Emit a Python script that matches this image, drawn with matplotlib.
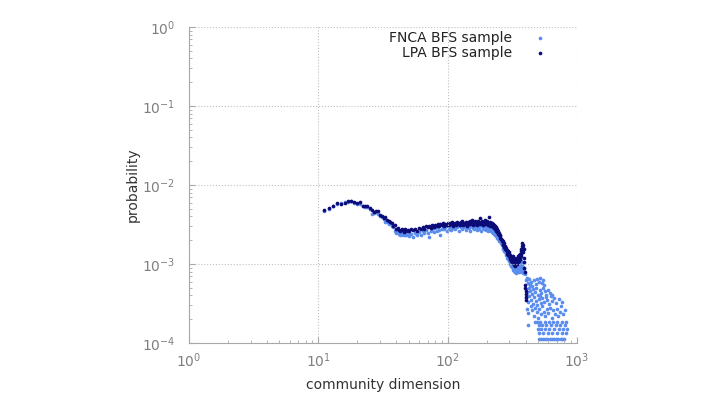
import numpy as np
import matplotlib
matplotlib.use("Agg")
import matplotlib.pyplot as plt

# community size -> probability (probabilities in units of 1e-3)
lpa_x = [11, 12, 13, 14, 15, 16, 17, 18, 19, 20, 21, 22, 23, 24, 25, 26, 27, 28, 29, 30,
         31, 32, 33, 34, 35, 36, 37, 38, 39, 40, 41, 42, 43, 44, 45, 46, 47, 48, 49, 50,
         52, 54, 56, 58, 60, 62, 64, 66, 68, 70, 72, 74, 76, 78, 80, 82, 84, 86, 88, 90,
         92, 94, 96, 98, 100, 102, 104, 106, 108, 110, 112, 114, 116, 118, 120, 122, 124, 126, 128, 130,
         132, 134, 136, 138, 140, 142, 144, 146, 148, 150, 152, 154, 156, 158, 160, 162, 164, 166, 168, 170,
         172, 174, 176, 178, 180, 182, 184, 186, 188, 190, 192, 194, 196, 198, 200, 202, 204, 206, 208, 210,
         212, 214, 216, 218, 220, 222, 224, 226, 228, 230, 232, 234, 236, 238, 240, 242, 244, 246, 248, 250,
         252, 254, 256, 258, 260, 262, 264, 266, 268, 270, 272, 274, 276, 278, 280, 282, 284, 286, 288, 290,
         292, 294, 296, 298, 300, 302, 304, 306, 308, 310, 312, 314, 316, 318, 320, 322, 324, 326, 328, 330,
         332, 334, 336, 338, 340, 342, 344, 346, 348, 350, 352, 354, 356, 358, 360, 362, 364, 366, 368, 370,
         372, 374, 376, 378, 380, 382, 384, 386, 388, 390, 392, 394, 396, 398, 400, 402, 404, 406]
lpa_y = [4.85, 5.10, 5.45, 5.90, 5.75, 5.95, 6.25, 6.30, 6.10, 5.95, 6.05, 5.35, 5.45, 5.50, 5.10, 4.80, 4.60, 4.75, 4.65, 4.20,
         4.05, 3.85, 3.95, 3.60, 3.55, 3.45, 3.30, 3.05, 3.15, 2.75, 2.85, 2.70, 2.65, 2.80, 2.70, 2.55, 2.75, 2.60, 2.70, 2.65,
         2.75, 2.70, 2.80, 2.60, 2.85, 2.75, 2.95, 2.80, 3.00, 2.90, 3.05, 2.85, 3.10, 2.95, 3.15, 3.05, 3.25, 3.00, 3.20, 3.10,
         3.30, 3.05, 3.25, 3.15, 3.35, 3.10, 3.30, 3.20, 3.40, 3.05, 3.25, 3.35, 3.15, 3.45, 3.20, 3.30, 3.10, 3.40, 3.25, 3.50,
         3.15, 3.35, 3.20, 3.45, 3.30, 3.05, 3.40, 3.25, 3.55, 3.20, 3.35, 3.60, 3.15, 3.40, 3.30, 3.50, 3.25, 3.45, 3.10, 3.40,
         3.55, 3.30, 3.20, 3.85, 3.40, 3.25, 3.50, 3.35, 3.15, 3.45, 3.30, 3.60, 3.20, 3.40, 3.25, 3.50, 3.10, 3.35, 3.95, 3.20,
         3.40, 3.05, 3.30, 3.15, 3.35, 3.00, 3.20, 2.95, 3.10, 2.85, 3.00, 2.75, 2.90, 2.65, 2.80, 2.55, 2.60, 2.40, 2.50, 2.30,
         2.35, 2.15, 2.25, 2.05, 2.10, 1.95, 2.00, 1.80, 1.95, 1.75, 1.85, 1.65, 1.70, 1.55, 1.65, 1.50, 1.60, 1.45, 1.50, 1.35,
         1.45, 1.30, 1.40, 1.25, 1.35, 1.20, 1.30, 1.15, 1.25, 1.10, 1.20, 1.05, 1.15, 1.25, 1.05, 1.15, 0.98, 1.10, 1.20, 1.00,
         1.08, 0.95, 1.12, 1.02, 1.15, 1.05, 1.20, 1.00, 1.15, 1.25, 1.05, 1.20, 1.10, 1.30, 1.15, 1.35, 1.20, 1.45, 1.25, 1.55,
         1.35, 1.70, 1.45, 1.85, 1.60, 1.75, 1.40, 1.55, 1.20, 1.05, 0.90, 0.80, 0.55, 0.50, 0.46, 0.42, 0.38, 0.35]

fnca_x = [11, 12, 13, 14, 15, 16, 17, 18, 19, 20, 21, 22, 23, 24, 25, 26, 27, 28, 29, 30,
          31, 32, 33, 34, 35, 36, 37, 38, 39, 40, 41, 42, 43, 44, 45, 46, 47, 48, 49, 50,
          52, 54, 56, 58, 60, 62, 64, 66, 68, 70, 72, 74, 76, 78, 80, 82, 84, 86, 88, 90,
          92, 94, 96, 98, 100, 102, 104, 106, 108, 110, 112, 114, 116, 118, 120, 122, 124, 126, 128, 130,
          132, 134, 136, 138, 140, 142, 144, 146, 148, 150, 152, 154, 156, 158, 160, 162, 164, 166, 168, 170,
          172, 174, 176, 178, 180, 182, 184, 186, 188, 190, 192, 194, 196, 198, 200, 202, 204, 206, 208, 210,
          212, 214, 216, 218, 220, 222, 224, 226, 228, 230, 232, 234, 236, 238, 240, 242, 244, 246, 248, 250,
          252, 254, 256, 258, 260, 262, 264, 266, 268, 270, 272, 274, 276, 278, 280, 282, 284, 286, 288, 290,
          292, 294, 296, 298, 300, 302, 304, 306, 308, 310, 312, 314, 316, 318, 320, 322, 324, 326, 328, 330,
          332, 334, 336, 338, 340, 342, 344, 346, 348, 350, 352, 354, 356, 358, 360, 362, 364, 366, 368, 370,
          372, 374, 376, 378, 380, 382, 384, 386, 388, 390, 392, 394]
fnca_y = [4.75, 5.00, 5.35, 5.80, 5.85, 6.05, 6.15, 6.20, 6.00, 5.80, 5.70, 5.40, 5.25, 5.30, 4.95, 4.35, 4.40, 4.50, 4.30, 4.05,
          3.95, 3.70, 3.40, 3.45, 3.20, 3.30, 3.05, 2.90, 2.65, 2.45, 2.60, 2.40, 2.35, 2.50, 2.30, 2.45, 2.35, 2.30, 2.40, 2.25,
          2.40, 2.20, 2.50, 2.35, 2.55, 2.30, 2.60, 2.45, 2.70, 2.50, 2.20, 2.65, 2.75, 2.55, 2.85, 2.60, 2.90, 2.70, 2.35, 2.80,
          3.00, 2.75, 2.95, 2.60, 3.05, 2.80, 2.95, 2.70, 3.10, 2.85, 3.00, 2.75, 3.15, 2.90, 3.05, 2.65, 3.20, 2.95, 3.10, 2.80,
          3.25, 2.90, 3.05, 2.70, 3.15, 2.95, 3.30, 2.85, 3.10, 2.60, 3.00, 3.20, 2.85, 3.05, 2.75, 3.15, 2.90, 3.25, 2.70, 3.05,
          2.95, 3.20, 2.80, 3.10, 2.65, 3.00, 3.25, 2.85, 3.05, 2.75, 3.15, 2.90, 3.10, 2.70, 3.00, 2.85, 3.15, 2.60, 2.95, 2.80,
          3.05, 2.70, 2.90, 2.65, 2.85, 2.55, 2.75, 2.50, 2.70, 2.40, 2.60, 2.35, 2.50, 2.25, 2.40, 2.15, 2.25, 2.05, 2.15, 1.95,
          2.10, 1.95, 2.00, 1.85, 1.90, 1.75, 1.80, 1.60, 1.70, 1.55, 1.60, 1.45, 1.50, 1.40, 1.45, 1.30, 1.40, 1.25, 1.30, 1.20,
          1.25, 1.15, 1.20, 1.10, 1.15, 1.05, 1.10, 1.00, 1.08, 0.95, 1.02, 0.92, 1.00, 0.88, 0.96, 0.85, 0.93, 0.82, 0.90, 0.86,
          0.80, 0.92, 0.84, 0.78, 0.88, 0.82, 0.95, 0.80, 0.90, 0.85, 1.00, 0.83, 0.92, 0.79, 0.95, 0.87, 1.05, 0.82, 0.98, 0.88,
          1.10, 0.85, 1.00, 0.80, 0.92, 0.84, 0.78, 0.88, 0.82, 0.76, 0.80, 0.74]

# FNCA large-community tail
fnca_tail_x = [405, 412, 418, 425, 432, 440, 452, 465, 478, 495, 508, 520, 535, 548, 560,
               400, 410, 422, 436, 448, 458, 470, 485, 501, 515, 530, 545, 565, 580, 600, 615, 640,
               402, 415, 428, 444, 455, 468, 480, 492, 505, 518, 528, 540, 555, 572, 590, 608, 625, 645, 665, 690, 720, 760,
               408, 420, 438, 450, 462, 475, 488, 498, 512, 525, 538, 552, 568, 585, 602, 620, 638, 655, 672, 695, 712, 735, 758, 780, 805,
               417, 471, 491, 521, 561, 611, 651, 701, 761, 821,
               506, 541, 581, 631, 691, 741, 801,
               503, 531, 566, 603, 661, 721, 781, 832,
               511, 551, 596, 646, 706, 771, 816,
               507, 526, 546, 571, 591, 616, 641, 666, 692, 716, 746, 772, 798]
fnca_tail_y = [0.62, 0.66, 0.58, 0.64, 0.55, 0.60, 0.52, 0.63, 0.56, 0.65, 0.60, 0.67, 0.58, 0.62, 0.54,
               0.48, 0.44, 0.50, 0.46, 0.42, 0.48, 0.44, 0.50, 0.41, 0.47, 0.43, 0.49, 0.45, 0.41, 0.47, 0.43, 0.40,
               0.37, 0.33, 0.39, 0.35, 0.31, 0.38, 0.34, 0.30, 0.36, 0.39, 0.32, 0.37, 0.33, 0.38, 0.35, 0.31, 0.39, 0.34, 0.37, 0.32, 0.36, 0.33,
               0.27, 0.24, 0.29, 0.26, 0.22, 0.28, 0.25, 0.21, 0.27, 0.23, 0.29, 0.25, 0.22, 0.27, 0.24, 0.28, 0.21, 0.26, 0.23, 0.27, 0.22, 0.25, 0.29, 0.23, 0.26,
               0.170, 0.185, 0.185, 0.185, 0.185, 0.185, 0.185, 0.185, 0.185, 0.185,
               0.168, 0.168, 0.168, 0.168, 0.168, 0.168, 0.168,
               0.150, 0.150, 0.150, 0.150, 0.150, 0.150, 0.150, 0.150,
               0.133, 0.133, 0.133, 0.133, 0.133, 0.133, 0.133,
               0.112, 0.112, 0.112, 0.112, 0.112, 0.112, 0.112, 0.112, 0.112, 0.112, 0.112, 0.112, 0.112]

fnca_color = '#5b8def'
lpa_color = '#0c0c78'

fig = plt.figure(figsize=(7.17, 4.0), dpi=100)
ax = fig.add_axes([0.2636, 0.1425, 0.5411, 0.79])

fx = fnca_x + fnca_tail_x
fy = np.array(fnca_y + fnca_tail_y) * 1e-3
ax.scatter(fx, fy, s=7, color=fnca_color, linewidths=0, label='FNCA BFS sample')
ax.scatter(lpa_x, np.array(lpa_y) * 1e-3, s=7, color=lpa_color, linewidths=0, label='LPA BFS sample')

ax.set_xscale('log')
ax.set_yscale('log')
ax.set_xlim(1, 1000)
ax.set_ylim(1e-4, 1)

ax.grid(True, which='major', linestyle=':', color='#c0c0c0', linewidth=0.8)
ax.spines['top'].set_visible(False)
ax.spines['right'].set_visible(False)
for s in ['left', 'bottom']:
    ax.spines[s].set_color('#a8a8a8')
ax.tick_params(which='both', direction='in', color='#a8a8a8', labelcolor='#7f7f7f', labelsize=10)
ax.tick_params(axis='y', which='both', pad=10)
ax.tick_params(axis='x', which='both', pad=6)
ax.tick_params(which='major', length=4)
ax.tick_params(which='minor', length=2)

ax.set_xlabel('community dimension', fontsize=10, color='#333333', labelpad=6)
ax.set_ylabel('probability', fontsize=10, color='#333333', labelpad=1)

ax.legend(loc='upper right', bbox_to_anchor=(0.955, 1.005), borderaxespad=0, markerfirst=False,
          frameon=False, fontsize=10, labelspacing=0.05, handletextpad=1.0, scatterpoints=1,
          labelcolor='#222222')

fig.savefig('out.png', dpi=100)
